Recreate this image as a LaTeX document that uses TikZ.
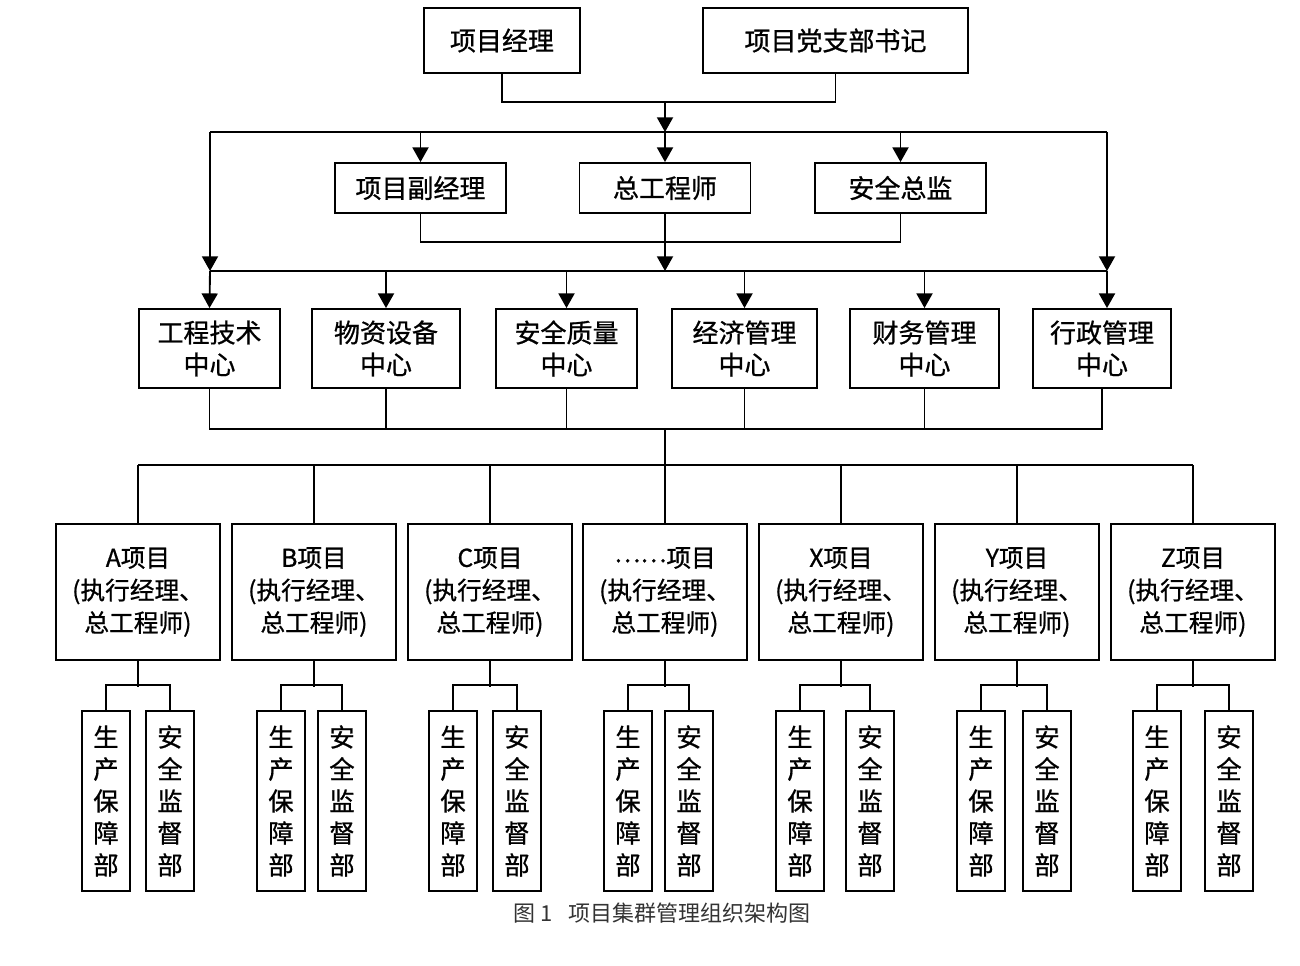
\documentclass[tikz,border=0pt]{standalone}
\usepackage{fontspec}
\newfontfamily\cjk[FakeBold=0.8]{Noto Sans CJK SC}
\newfontfamily\cjkcap{Noto Sans CJK SC}
\usetikzlibrary{arrows.meta}
\begin{document}
\begin{tikzpicture}[x=0.75pt,y=-0.75pt,
  conn/.style={line width=1.4pt},
  arr/.style={conn,-{Triangle[width=12pt,length=11pt]}},
  box/.style={draw,line width=1.4pt,inner sep=0pt,align=center,
    font=\cjk\fontsize{19.5pt}{24pt}\selectfont},
  pbox/.style={box,minimum width=123pt,minimum height=102pt,
    font=\cjk\fontsize{18.5pt}{24.4pt}\selectfont},
  sbox/.style={box,minimum width=36pt,minimum height=135pt,
    font=\cjk\fontsize{19pt}{24pt}\selectfont}]
\fill[white] (0,0) rectangle (1300,965);
\useasboundingbox (0,0) rectangle (1300,965);

% top level
\node[box,minimum width=117pt,minimum height=48.75pt] (pm) at (502,40.5) {项目经理};
\node[box,minimum width=198.75pt,minimum height=48.75pt] (sec) at (835.5,40.5) {项目党支部书记};

% second level
\node[box,minimum width=128.25pt,minimum height=37.5pt] (dep) at (420.5,188) {项目副经理};
\node[box,minimum width=128.25pt,minimum height=37.5pt] (chief) at (665,188) {总工程师};
\node[box,minimum width=128.25pt,minimum height=37.5pt] (saf) at (900.5,188) {安全总监};

% third level
\node[box,minimum width=105.75pt,minimum height=59.25pt] (c1) at (209.5,348.5) {工程技术\\中心};
\node[box,minimum width=111pt,minimum height=59.25pt] (c2) at (386,348.5) {物资设备\\中心};
\node[box,minimum width=105.75pt,minimum height=59.25pt] (c3) at (566.5,348.5) {安全质量\\中心};
\node[box,minimum width=108.75pt,minimum height=59.25pt] (c4) at (744.5,348.5) {经济管理\\中心};
\node[box,minimum width=111.75pt,minimum height=59.25pt] (c5) at (924.5,348.5) {财务管理\\中心};
\node[box,minimum width=103.5pt,minimum height=59.25pt] (c6) at (1102,348.5) {行政管理\\中心};

% connectors top
\coordinate (j1) at (665,102);
\coordinate (j2) at (665,132);
\coordinate (bL) at (210,132);
\coordinate (bR) at (1107,132);
\coordinate (j3) at (665,242);
\coordinate (b2L) at (210,271);
\coordinate (b2C) at (665,271);
\coordinate (b2R) at (1107,271);

\draw[conn] (pm.south) |- (j1) -| (sec.south);
\draw[arr] (j1) -- (j2);
\draw[conn] (bL) -- (bR);
\draw[arr] (dep.north |- j2) -- (dep.north);
\draw[arr] (chief.north |- j2) -- (chief.north);
\draw[arr] (saf.north |- j2) -- (saf.north);
\draw[arr] (bL) -- (b2L);
\draw[arr] (bR) -- (b2R);
\draw[conn] (dep.south) |- (j3) -| (saf.south);
\draw[arr] (chief.south) -- (b2C);
\draw[conn] (b2L) -- (b2R);
\draw[arr] (b2L) -- (c1.north);
\draw[arr] (c2.north |- b2L) -- (c2.north);
\draw[arr] (c3.north |- b2L) -- (c3.north);
\draw[arr] (c4.north |- b2L) -- (c4.north);
\draw[arr] (c5.north |- b2L) -- (c5.north);
\draw[arr] (b2R) -- (b2R |- c6.north);

% centres to projects
\coordinate (k1) at (665,429);
\coordinate (k2) at (665,465);
\draw[conn] (c1.south) |- (k1) -| (c6.south);
\foreach \cc in {c2,c3,c4,c5} {\draw[conn] (\cc.south) -- (\cc.south |- k1);}
\draw[conn] (k1) -- (k2);

\foreach \n/\c/\l/\r/\lab in {pA/138/106/170/A,pB/314/281/342/B,pC/490/453/517/C,pD/665/628/689/\raisebox{0.35ex}{……},pX/841/800/870/X,pY/1017/981/1047/Y,pZ/1193/1157/1229/Z} {
  \node[pbox] (\n) at (\c,592) {\lab 项目\\(执行经理、\\总工程师)};
  \node[sbox] (\n-a) at (\l,801) {生\\产\\保\\障\\部};
  \node[sbox] (\n-b) at (\r,801) {安\\全\\监\\督\\部};
  \draw[conn] (\n.north) -- (\n.north |- k2);
  \draw[conn] (\n.south) -- ++(0,26);
  \draw[conn] (\n-a.north) -- ++(0,-25) -| (\n-b.north);
}
\draw[conn] (pA.north |- k2) -- (pZ.north |- k2);

\node[font=\cjkcap\fontsize{16.5pt}{20pt}\selectfont,text=black!80] (cap) at (662,913) {图 1\hspace{0.7em}项目集群管理组织架构图};
\end{tikzpicture}
\end{document}
